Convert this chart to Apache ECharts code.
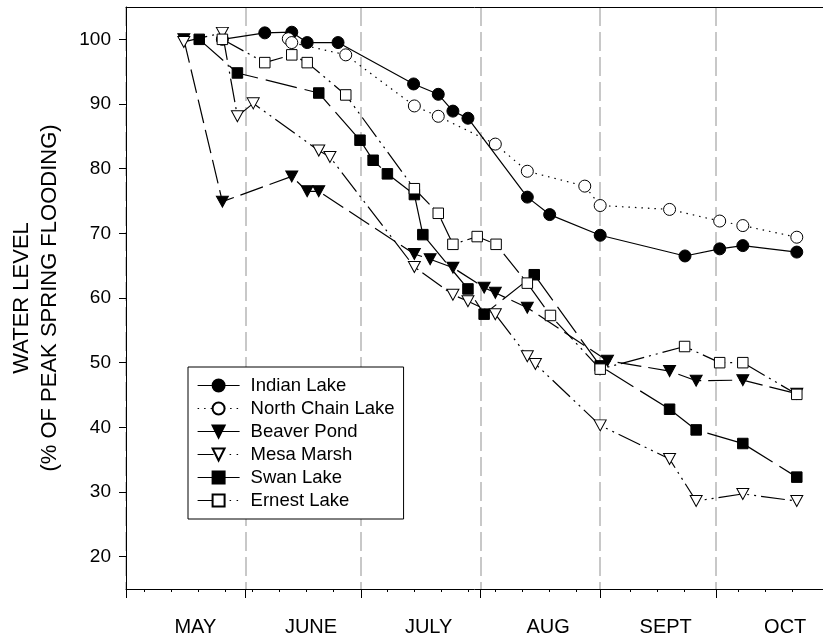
<!DOCTYPE html>
<html><head><meta charset="utf-8">
<script src="https://cdn.jsdelivr.net/npm/echarts@6/dist/echarts.min.js"></script>
<style>html,body{margin:0;padding:0;background:#fff}#c{width:823px;height:641px}</style>
</head><body><div id="c"></div>
<script>
// x values: days since May 1
const monthNames = ['MAY', 'JUNE', 'JULY', 'AUG', 'SEPT', 'OCT'];
const monthStarts = [0, 31, 61, 92, 123, 153];
const monthLabelDays = [18, 48, 78.5, 109.5, 140, 171];
const weekTicks = [4.7, 11.7, 18.7, 25.7, 32.7, 39.7, 46.7, 53.7, 67.7, 74.7, 81.7, 88.7, 95.7, 102.7, 109.7, 116.7, 130.7, 137.7, 144.7, 158.7, 165.7, 172.7];
const yTicks = [20, 30, 40, 50, 60, 70, 80, 90, 100];

const indianDays  = [25, 36, 43, 47, 55, 74.6, 81, 84.8, 88.7, 104.1, 109.9, 123, 145, 154, 160, 174];
const indianLevel = [100, 101.0, 101.1, 99.5, 99.5, 93.1, 91.5, 88.9, 87.8, 75.6, 72.9, 69.7, 66.5, 67.6, 68.1, 67.1];

const northDays  = [42.1, 43, 57, 74.8, 81, 95.8, 104.1, 119, 123, 141, 154, 160, 174];
const northLevel = [100.1, 99.5, 97.6, 89.7, 88.1, 83.8, 79.6, 77.3, 74.3, 73.7, 71.9, 71.2, 69.4];

const beaverDays  = [15, 25, 43, 47, 50, 74.8, 78.9, 84.8, 92.9, 95.8, 104.1, 124.9, 141, 147.9, 160, 174];
const beaverLevel = [100, 74.9, 78.8, 76.5, 76.5, 66.8, 66.0, 64.7, 61.6, 60.8, 58.5, 50.3, 48.7, 47.2, 47.3, 45.2];

const mesaDays  = [15, 25, 28.9, 33, 50, 52.9, 74.8, 84.8, 88.7, 95.8, 104.1, 106.2, 123, 141, 147.9, 160, 174];
const mesaLevel = [99.6, 101.0, 88.1, 90.1, 82.8, 81.8, 64.8, 60.5, 59.5, 57.5, 51.0, 49.8, 40.3, 35.1, 28.6, 29.7, 28.6];

const swanDays  = [19, 28.9, 50, 60.7, 64.1, 67.8, 74.8, 77, 88.7, 92.9, 105.9, 123, 141, 147.9, 160, 174];
const swanLevel = [100, 94.8, 91.7, 84.4, 81.3, 79.2, 76.0, 69.8, 61.4, 57.5, 63.6, 49.5, 42.8, 39.6, 37.5, 32.3];

const ernestDays  = [25, 36, 43, 47, 57, 74.8, 81, 84.8, 91.1, 96, 104.1, 110.1, 123, 144.9, 154, 160, 174];
const ernestLevel = [100, 96.4, 97.6, 96.4, 91.4, 76.9, 73.1, 68.3, 69.5, 68.3, 62.3, 57.3, 49.0, 52.5, 50.0, 50.0, 45.1];

const FONT = '"Liberation Sans", Arial, sans-serif';
const pairs = (xs, ys) => xs.map((x, i) => [x, ys[i]]);

function mk(name, xs, ys, symbol, size, rotate, fill, dash) {
  return {
    name, type: 'line', data: pairs(xs, ys),
    symbol, symbolSize: size, symbolRotate: rotate,
    itemStyle: { color: fill, borderColor: '#000', borderWidth: 1 },
    lineStyle: { color: '#000', width: 1.2, type: dash },
    emphasis: { disabled: true },
    animation: false, clip: false
  };
}

const series = [
  mk('Indian Lake', indianDays, indianLevel, 'circle', 12, 0, '#000', 'solid'),
  mk('North Chain Lake', northDays, northLevel, 'circle', 12, 0, '#fff', [1.5, 5]),
  mk('Beaver Pond', beaverDays, beaverLevel, 'triangle', [12, 11], 180, '#000', [24, 7]),
  mk('Mesa Marsh', mesaDays, mesaLevel, 'triangle', [12, 11], 180, '#fff', [24, 5, 2, 5, 2, 5]),
  mk('Swan Lake', swanDays, swanLevel, 'rect', 10.5, 0, '#000', [32, 8]),
  mk('Ernest Lake', ernestDays, ernestLevel, 'rect', 10.5, 0, '#fff', [24, 5, 2, 5, 2, 5])
];

const legendLine = {
  'Indian Lake': 'solid',
  'North Chain Lake': [1.5, 5],
  'Beaver Pond': 'solid',
  'Mesa Marsh': [16, 16, 1.5, 5.5, 1.5, 10],
  'Swan Lake': 'solid',
  'Ernest Lake': [16, 16, 1.5, 5.5, 1.5, 10]
};

const chart = echarts.init(document.getElementById('c'), null, { renderer: 'canvas' });
chart.setOption({
  animation: false,
  backgroundColor: '#fff',
  textStyle: { fontFamily: FONT },
  grid: { left: 125, right: 0, top: 7, bottom: 52, containLabel: false },
  legend: {
    orient: 'vertical', left: 188, top: 367,
    backgroundColor: '#fff', borderColor: '#000', borderWidth: 1,
    padding: [9, 9, 9, 9], itemWidth: 42, itemHeight: 15, itemGap: 4,
    selectedMode: false,
    textStyle: { fontFamily: FONT, fontSize: 18.5, lineHeight: 18, color: '#000', padding: [0, 0, 0, 6] },
    data: series.map(s => ({ name: s.name, lineStyle: { type: legendLine[s.name], width: 1.2, color: '#000' } }))
  },
  xAxis: [
    {
      type: 'value', min: 0, max: 180.8, position: 'bottom',
      axisLine: { show: true, lineStyle: { color: '#000', width: 1 } },
      axisTick: { show: true, customValues: monthStarts, length: 9, inside: false, lineStyle: { color: '#000', width: 1 } },
      axisLabel: {
        show: true, customValues: monthLabelDays, margin: 28,
        fontSize: 20, color: '#000', fontFamily: FONT,
        formatter: v => { const i = monthLabelDays.indexOf(v); return i >= 0 ? monthNames[i] : ''; }
      },
      splitLine: { show: true, lineStyle: { color: '#c8c8c8', width: 2, type: [19, 6] } }
    },
    {
      type: 'value', min: 0, max: 180.8, position: 'top',
      axisLine: { show: true, lineStyle: { color: '#000', width: 1 } },
      axisTick: { show: false }, axisLabel: { show: false }, splitLine: { show: false }
    },
    {
      type: 'value', min: 0, max: 180.8, position: 'bottom',
      axisLine: { show: false },
      axisTick: { show: true, customValues: weekTicks, length: 3, inside: false, lineStyle: { color: '#000', width: 1 } },
      axisLabel: { show: false }, splitLine: { show: false }
    }
  ],
  yAxis: {
    type: 'value', min: 15, max: 105,
    axisLine: { show: true, lineStyle: { color: '#000', width: 1 } },
    axisTick: { show: true, customValues: yTicks, length: 7, lineStyle: { color: '#000', width: 1 } },
    axisLabel: { customValues: yTicks, fontSize: 19, color: '#000', margin: 15, fontFamily: FONT },
    splitLine: { show: false },
    name: 'WATER LEVEL\n(% OF PEAK SPRING FLOODING)',
    nameLocation: 'middle', nameRotate: 90, nameGap: 62,
    nameTextStyle: { fontSize: 22, lineHeight: 28, color: '#000', fontFamily: FONT }
  },
  series
});
</script></body></html>
